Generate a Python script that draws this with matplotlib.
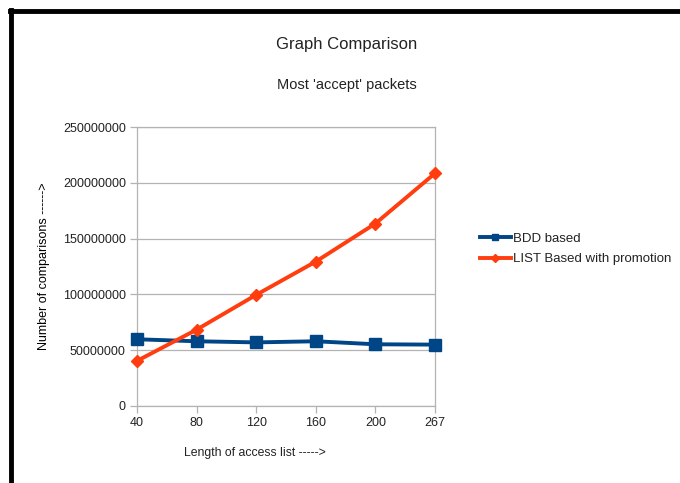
"""Graph comparison: BDD vs LIST based matching, most 'accept' packets."""
import matplotlib.pyplot as plt
from matplotlib.lines import Line2D

list_lengths = ["40", "80", "120", "160", "200", "267"]
bdd_based = [59_800_000, 58_000_000, 57_000_000, 58_000_000, 55_300_000, 55_000_000]
list_promotion = [40_400_000, 68_400_000, 99_600_000, 129_400_000, 163_500_000, 208_500_000]
y_ticks = [0, 50_000_000, 100_000_000, 150_000_000, 200_000_000, 250_000_000]

BLUE = "#004586"
RED = "#ff3d0e"
GRID = "#b3b3b3"

plt.rcParams.update({
    "font.family": ["Liberation Sans", "DejaVu Sans"],
    "font.size": 8,
    "text.color": "#222222",
})

fig = plt.figure(figsize=(6.8, 4.83), dpi=100)
ax = fig.add_axes([137 / 680, 1 - 406 / 483, (435 - 137) / 680, (406 - 127) / 483])

x = list(range(len(list_lengths)))
ax.plot(x, bdd_based, color=BLUE, lw=2.8, marker="s", ms=8.5, mec=BLUE,
        label="BDD based", clip_on=False, zorder=3)
ax.plot(x, list_promotion, color=RED, lw=2.8, marker="D", ms=6.5, mec=RED,
        label="LIST Based with promotion", clip_on=False, zorder=4)

ax.set_xlim(0, len(x) - 1)
ax.set_ylim(0, 250_000_000)
ax.set_xticks(x, list_lengths)
ax.set_yticks(y_ticks, [str(v) for v in y_ticks])
ax.yaxis.grid(True, color=GRID, lw=0.9)
ax.set_axisbelow(True)
for s in ax.spines.values():
    s.set_color(GRID)
    s.set_linewidth(0.9)
ax.tick_params(axis="both", color=GRID, length=5, width=0.9, labelsize=9,
               labelcolor="#222222", pad=3)

ax.set_ylabel("Number of comparisons ------>", fontsize=9, labelpad=9)
fig.text(255 / 680, 1 - 453 / 483, "Length of access list ----->",
         ha="center", va="center", fontsize=8.8)

fig.text(347 / 680, 1 - 45 / 483, "Graph Comparison", ha="center", va="center", fontsize=12)
fig.text(347 / 680, 1 - 85 / 483, "Most 'accept' packets", ha="center", va="center", fontsize=10.5)

handles = [
    Line2D([], [], color=BLUE, lw=2.8, marker="s", ms=5),
    Line2D([], [], color=RED, lw=2.8, marker="D", ms=4),
]
fig.legend(handles, ["BDD based", "LIST Based with promotion"],
           loc="center left", bbox_to_anchor=(475 / 680, 1 - 249 / 483),
           frameon=False, fontsize=9.5, handlelength=2.3, handletextpad=0.15,
           labelspacing=0.6, borderaxespad=0)

# black frame lines of the screenshot (top and left)
fig.add_artist(Line2D([10 / 680, 1], [1 - 11 / 483, 1 - 11 / 483], color="black", lw=3.5,
                      transform=fig.transFigure))
fig.add_artist(Line2D([10.5 / 680, 10.5 / 680], [0, 1 - 9.5 / 483], color="black", lw=3.5,
                      transform=fig.transFigure))

fig.savefig("out.png", dpi=100)
